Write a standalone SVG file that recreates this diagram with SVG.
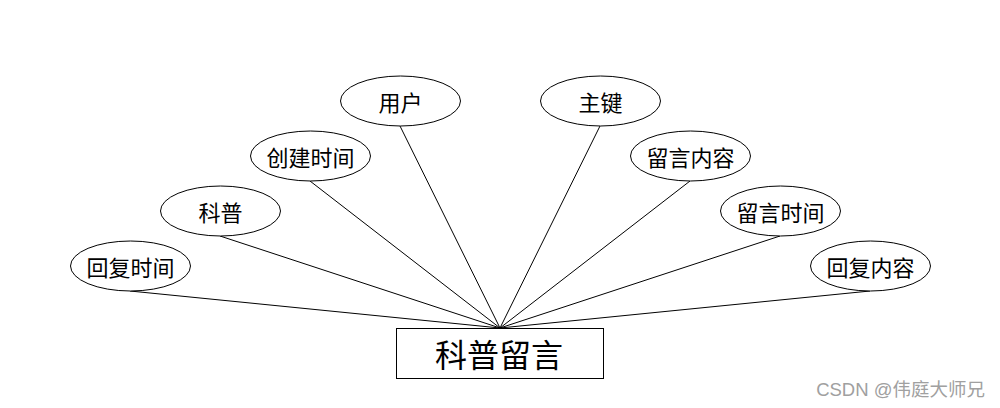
<svg xmlns="http://www.w3.org/2000/svg" width="1000" height="408" viewBox="0 0 1000 408">
<style>
.e{fill:#fff;stroke:#000;stroke-width:1}
.t{font-family:"Noto Sans CJK SC","Liberation Sans",sans-serif;font-size:22px;fill:#000;text-anchor:middle;dominant-baseline:central}
.c line{stroke:#000;stroke-width:1}
</style>
<rect width="1000" height="408" fill="#fff"/>
<g class="c" id="connectors">
<line x1="130" y1="291" x2="500" y2="328"/>
<line x1="220" y1="236" x2="500" y2="328"/>
<line x1="310" y1="181" x2="500" y2="328"/>
<line x1="400" y1="126" x2="500" y2="328"/>
<line x1="600" y1="126" x2="500" y2="328"/>
<line x1="690" y1="181" x2="500" y2="328"/>
<line x1="780" y1="236" x2="500" y2="328"/>
<line x1="870" y1="291" x2="500" y2="328"/>
</g>
<g id="n1"><ellipse class="e" cx="130.5" cy="266" rx="60" ry="25"/><text class="t" x="130.5" y="266">回复时间</text></g>
<g id="n2"><ellipse class="e" cx="220.5" cy="211" rx="60" ry="25"/><text class="t" x="220.5" y="211">科普</text></g>
<g id="n3"><ellipse class="e" cx="310.5" cy="156" rx="60" ry="25"/><text class="t" x="310.5" y="156">创建时间</text></g>
<g id="n4"><ellipse class="e" cx="400.5" cy="101" rx="60" ry="25"/><text class="t" x="400.5" y="101">用户</text></g>
<g id="n5"><ellipse class="e" cx="600.5" cy="101" rx="60" ry="25"/><text class="t" x="600.5" y="101">主键</text></g>
<g id="n6"><ellipse class="e" cx="690.5" cy="156" rx="60" ry="25"/><text class="t" x="690.5" y="156">留言内容</text></g>
<g id="n7"><ellipse class="e" cx="780.5" cy="211" rx="60" ry="25"/><text class="t" x="780.5" y="211">留言时间</text></g>
<g id="n8"><ellipse class="e" cx="870.5" cy="266" rx="60" ry="25"/><text class="t" x="870.5" y="266">回复内容</text></g>
<g id="main"><rect x="396.5" y="328.5" width="207" height="50" fill="#fff" stroke="#000" stroke-width="1"/><text class="t" x="499" y="353" style="font-size:32px">科普留言</text></g>
<text x="985" y="389" style="font-family:'Liberation Sans','Noto Sans CJK SC',sans-serif;font-size:18.5px;fill:#a0a0a0;text-anchor:end;dominant-baseline:central">CSDN @伟庭大师兄</text>
</svg>
